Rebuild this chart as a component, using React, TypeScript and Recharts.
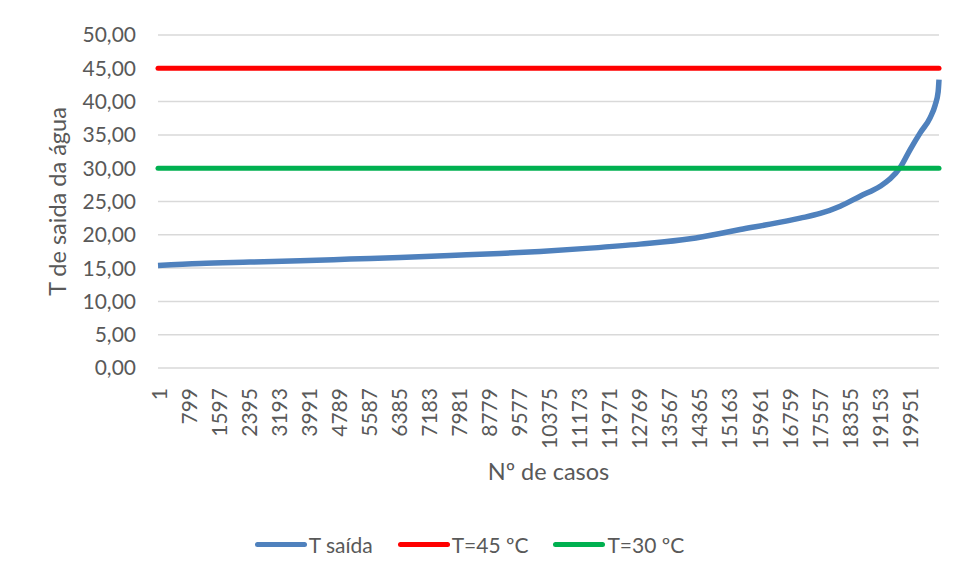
import { LineChart, Line, XAxis, YAxis, CartesianGrid, Legend } from 'recharts';

const FONT = 'Lato, "DejaVu Sans", sans-serif';
const TEXT = '#595959';
const BLUE = '#4f81bd';
const RED = '#ff0000';
const GREEN = '#00b050';

// Nº de casos (ordered sample)
const casos = [
  1, 1116, 2445, 3773, 5101, 6428, 7756, 9084, 10147, 11475, 12803, 14131, 14928, 15459,
  16256, 17053, 17584, 18115, 18646, 19178, 19443, 19709, 19974, 20240, 20506, 20639, 20718, 20740,
];
const tSaida = [
  15.4, 15.7, 15.9, 16.1, 16.35, 16.6, 16.9, 17.2, 17.5, 18.0, 18.6, 19.4, 20.2, 20.8,
  21.6, 22.5, 23.2, 24.3, 25.8, 27.3, 28.4, 30.1, 32.8, 35.3, 37.6, 39.5, 41.5, 43.3,
];
const T_MAX = 45;
const T_MIN = 30;
const TOTAL_CASOS = 20740;

const seriesNames = ['T saída', 'T=45 ºC', 'T=30 ºC'];

const xTicks = [
  1, 799, 1597, 2395, 3193, 3991, 4789, 5587, 6385, 7183, 7981, 8779, 9577, 10375, 11173,
  11971, 12769, 13567, 14365, 15163, 15961, 16759, 17557, 18355, 19153, 19951,
];
const yTicks = [0, 5, 10, 15, 20, 25, 30, 35, 40, 45, 50];

const data = casos.map((c, i) => ({ caso: c, tSaida: tSaida[i], t45: T_MAX, t30: T_MIN }));

const fmt = (v: number) => v.toFixed(2).replace('.', ',');

function CasoTick({ x, y, payload }: any) {
  return (
    <text
      x={x}
      y={y}
      transform={`rotate(-90, ${x}, ${y})`}
      textAnchor="end"
      dominantBaseline="central"
      fill={TEXT}
      fontSize={21}
      fontFamily={FONT}
    >
      {payload.value}
    </text>
  );
}

function LegendContent({ payload }: any) {
  const items = [...(payload || [])].sort(
    (a: any, b: any) => seriesNames.indexOf(a.value) - seriesNames.indexOf(b.value)
  );
  return (
    <div style={{ display: 'flex', justifyContent: 'center', alignItems: 'center', height: 44 }}>
      {items.map((p: any, i: number) => (
        <div key={i} style={{ display: 'flex', alignItems: 'center', marginRight: i < items.length - 1 ? 25 : 0 }}>
          <span style={{ width: 52, height: 5, borderRadius: 3, background: p.color, display: 'inline-block', marginRight: 2 }} />
          <span style={{ color: TEXT, fontSize: 21, fontFamily: FONT }}>{p.value}</span>
        </div>
      ))}
    </div>
  );
}

export default function App() {
  return (
    <div style={{ position: 'relative', width: 955, height: 576, margin: -8, overflow: 'hidden', background: '#fff' }}>
      <div style={{ position: 'absolute', left: 7, top: 5, width: 960, height: 566, border: '1px solid #d9d9d9' }} />
      <LineChart
        width={955}
        height={576}
        data={data}
        margin={{ top: 35, right: 16, left: 0, bottom: 10 }}
        style={{ position: 'absolute', left: 0, top: 0 }}
      >
        <CartesianGrid vertical={false} stroke="#d9d9d9" strokeWidth={1.5} />
        <XAxis
          dataKey="caso"
          type="number"
          domain={[1, TOTAL_CASOS]}
          ticks={xTicks}
          interval={0}
          axisLine={false}
          tickLine={false}
          tickMargin={14}
          height={154}
          tick={<CasoTick />}
          label={{ value: 'Nº de casos', position: 'insideBottom', offset: 42, fill: TEXT, fontSize: 23.5, fontFamily: FONT }}
        />
        <YAxis
          domain={[0, 50]}
          ticks={yTicks}
          tickFormatter={fmt}
          width={158}
          axisLine={false}
          tickLine={false}
          tickMargin={16}
          tick={{ fill: TEXT, fontSize: 21, fontFamily: FONT }}
          label={{ value: 'T de saida da água', angle: -90, position: 'insideLeft', offset: 58, fill: TEXT, fontSize: 23.5, fontFamily: FONT, style: { textAnchor: 'middle' } }}
        />
        <Legend verticalAlign="bottom" content={<LegendContent />} />
        <Line name="T saída" dataKey="tSaida" type="monotone" stroke={BLUE} strokeWidth={5.5} dot={false} isAnimationActive={false} />
        <Line name="T=45 ºC" dataKey="t45" type="linear" stroke={RED} strokeWidth={5} strokeLinecap="round" dot={false} isAnimationActive={false} />
        <Line name="T=30 ºC" dataKey="t30" type="linear" stroke={GREEN} strokeWidth={5} strokeLinecap="round" dot={false} isAnimationActive={false} />
      </LineChart>
    </div>
  );
}
